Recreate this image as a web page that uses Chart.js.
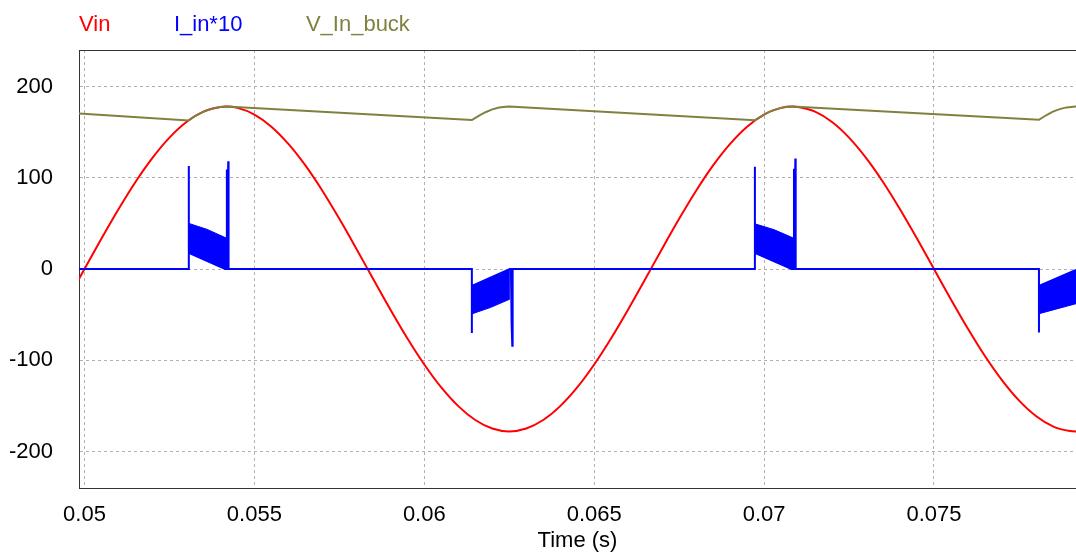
<!DOCTYPE html>
<html><head><meta charset="utf-8">
<script src="https://cdn.jsdelivr.net/npm/chart.js@4.4.1/dist/chart.umd.min.js"></script>
<style>html,body{margin:0;padding:0;background:#fff;overflow:hidden}#wrap{width:1076px;height:554px;position:relative}</style>
</head><body><div id="wrap"><canvas id="c" width="1076" height="554"></canvas></div>
<script>
// ---- tick labels ----
const xTickValues = [0.05, 0.055, 0.06, 0.065, 0.07, 0.075];
const xTickLabels = ['0.05', '0.055', '0.06', '0.065', '0.07', '0.075'];
const yTickValues = [-200, -100, 0, 100, 200];
const yTickLabels = ['-200', '-100', '0', '100', '200'];
const seriesNames = ['Vin', 'I_in*10', 'V_In_buck'];
const xTitle = 'Time (s)';

// ---- Vin (V) ----
const vinTime = [0.0495,0.0500,0.0505,0.0510,0.0515,0.0520,0.0525,0.0530,0.0535,0.0540,0.05417,0.0545,0.0550,0.0555,0.0560,0.0565,0.0570,0.0575,0.0580,0.0585,0.0590,0.0595,0.0600,0.0605,0.0610,0.0615,0.0620,0.0625,0.0630,0.0635,0.0640,0.0645,0.0650,0.0655,0.0660,0.0665,0.0670,0.0675,0.0680,0.0685,0.0690,0.0695,0.0700,0.0705,0.07083,0.0710,0.0715,0.0720,0.0725,0.0730,0.0735,0.0740,0.0745,0.0750,0.0755,0.0760,0.0765,0.0770,0.0775,0.0780,0.0785,0.0790,0.07917,0.0795];
const vinValue = [-33.4,0,33.4,65.5,95.4,121.8,144.0,161.1,172.4,177.6,178,176.6,169.3,156.0,137.1,113.5,85.8,55.0,22.3,-11.2,-44.3,-75.8,-104.6,-129.8,-150.3,-165.5,-174.8,-178,-174.8,-165.5,-150.3,-129.8,-104.6,-75.8,-44.3,-11.2,22.3,55.0,85.8,113.5,137.1,156.0,169.3,176.6,178,177.6,172.4,161.1,144.0,121.8,95.4,65.5,33.4,0,-33.4,-65.5,-95.4,-121.8,-144.0,-161.1,-172.4,-177.6,-178,-176.6];

// ---- V_In_buck (V) ----
const buckTime = [0.0495,0.05306,0.0532,0.0534,0.0536,0.0538,0.0540,0.05417,0.0614,0.0616,0.0618,0.0620,0.0622,0.0624,0.0625,0.06973,0.0699,0.0701,0.0703,0.0705,0.0707,0.07083,0.07809,0.0783,0.0785,0.0787,0.0789,0.0791,0.07917,0.0795];
const buckValue = [171.1,162.8,166.4,170.6,173.9,176.3,177.6,178,163.2,167.8,171.8,174.9,176.9,177.9,178,163.0,167.1,171.3,174.4,176.6,177.8,178,163.5,168.5,172.4,175.2,177.1,177.9,178,177.3];

// ---- I_in*10 trace (zero line and spikes) ----
const iinTime = [0.0495,0.05307,0.05307,0.05307,0.05414,0.05419,0.05419,0.05420,0.05423,0.05424,0.06140,0.06140,0.06140,0.06252,0.06255,0.06257,0.06259,0.06260,0.06973,0.06973,0.06973,0.07081,0.07088,0.07088,0.07089,0.07092,0.07093,0.07809,0.07809,0.07809,0.07918];
const iinValue = [0,0,113,17.8,0,0,109,33,118,0,0,-70,-18.6,0,0,-60,-84,0,0,112,17.8,0,0,110,33,121,0,0,-69.6,-18.6,-1];

// ---- I_in*10 switching band envelopes (per conduction interval) ----
const bandUpperTime = [[0.05307,0.05361,0.05419],[0.06140,0.06196,0.06252],[0.06973,0.07030,0.07088],[0.07809,0.07918]];
const bandUpperValue = [[50,43.4,33.6],[-18.6,-10.2,0],[49.5,43,33.6],[-18.6,-1]];
const bandLowerTime = [[0.05307,0.05414,0.05419],[0.06140,0.06196,0.06252],[0.06973,0.07081,0.07088],[0.07809,0.07918]];
const bandLowerValue = [[17.8,0,0],[-49.2,-42,-33],[17.8,0,0],[-49,-38]];

const RED = '#ff0000', BLUE = '#0000ff', OLIVE = '#808040';
const FONT = '"Liberation Sans", Arial, Helvetica, sans-serif';
const pts = (t, v) => t.map((x, i) => ({x: x, y: v[i]}));

const datasets = [];
datasets.push({label: seriesNames[0], legend: true, data: pts(vinTime, vinValue), borderColor: RED, borderWidth: 2,
  pointRadius: 0, cubicInterpolationMode: 'monotone', fill: false, order: 3, clip: 0});
datasets.push({label: seriesNames[1], legend: true, data: pts(iinTime, iinValue), borderColor: BLUE, borderWidth: 2,
  pointRadius: 0, tension: 0, fill: false, order: 2, clip: 0});
bandUpperTime.forEach((t, k) => {
  datasets.push({label: 'bandU' + k, data: pts(t, bandUpperValue[k]), borderColor: BLUE, borderWidth: 1,
    pointRadius: 0, tension: 0, fill: false, order: 2, clip: 0});
  datasets.push({label: 'bandL' + k, data: pts(bandLowerTime[k], bandLowerValue[k]), borderColor: BLUE, borderWidth: 1,
    backgroundColor: BLUE, pointRadius: 0, tension: 0, fill: '-1', order: 2, clip: 0});
});
datasets.push({label: seriesNames[2], legend: true, data: pts(buckTime, buckValue), borderColor: OLIVE, borderWidth: 2,
  pointRadius: 0, tension: 0, fill: false, order: 1, clip: 0});

const legendText = {
  id: 'legendText',
  afterDraw(chart) {
    const ctx = chart.ctx;
    ctx.save();
    ctx.font = '22px ' + FONT;
    ctx.textAlign = 'left';
    ctx.textBaseline = 'alphabetic';
    let x = chart.chartArea.left;
    chart.data.datasets.filter(d => d.legend).forEach(d => {
      ctx.fillStyle = d.borderColor;
      ctx.fillText(d.label, x, 31);
      x += ctx.measureText(d.label).width + 63.5;
    });
    ctx.restore();
  }
};
const frameTop = {
  id: 'frameTop',
  beforeDatasetsDraw(chart) {
    const ctx = chart.ctx, a = chart.chartArea;
    ctx.save();
    ctx.strokeStyle = '#333333';
    ctx.lineWidth = 1;
    ctx.beginPath();
    ctx.moveTo(a.left, Math.round(a.top) + 0.5);
    ctx.lineTo(a.right, Math.round(a.top) + 0.5);
    ctx.stroke();
    ctx.restore();
  }
};

new Chart(document.getElementById('c'), {
  type: 'line',
  data: {datasets: datasets},
  plugins: [legendText, frameTop],
  options: {
    responsive: false,
    animation: false,
    devicePixelRatio: 1,
    layout: {padding: {top: 50, left: 0, right: 0, bottom: 0}},
    plugins: {legend: {display: false}, tooltip: {enabled: false}},
    scales: {
      x: {
        type: 'linear', min: 0.049838, max: 0.07918,
        afterBuildTicks: s => { s.ticks = xTickValues.map(v => ({value: v})); },
        afterFit: s => { s.height = 66; },
        ticks: {callback: (v) => xTickLabels[xTickValues.indexOf(v)], color: '#000', font: {family: FONT, size: 22}, padding: 14, maxRotation: 0, autoSkip: false},
        grid: {color: '#b0b0b0', lineWidth: 1, drawTicks: false, tickBorderDash: [3, 3]},
        border: {display: true, color: '#333333', width: 1, dash: [3, 3]},
        title: {display: true, text: xTitle, color: '#000', font: {family: FONT, size: 22}, padding: {top: 0, bottom: 0}}
      },
      y: {
        type: 'linear', min: -240, max: 240,
        afterBuildTicks: s => { s.ticks = yTickValues.map(v => ({value: v})); },
        afterFit: s => { s.width = 79; },
        ticks: {callback: (v) => yTickLabels[yTickValues.indexOf(v)], color: '#000', font: {family: FONT, size: 22}, padding: 26},
        grid: {color: '#b0b0b0', lineWidth: 1, drawTicks: false},
        border: {display: true, color: '#333333', width: 1, dash: [3, 3]}
      }
    }
  }
});
</script></body></html>
